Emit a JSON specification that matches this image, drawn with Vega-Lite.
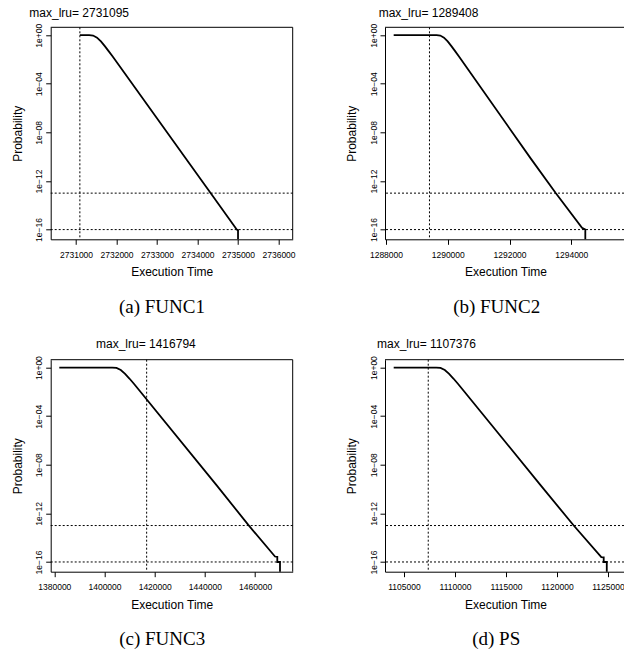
{
  "$schema": "https://vega.github.io/schema/vega-lite/v6.json",
  "autosize": {"type": "none"},
  "padding": {"left": 50.7, "top": 27.3, "right": 573.3, "bottom": 623.7},
  "background": "white",
  "config": {
    "view": {"stroke": null},
    "axis": {"grid": false, "domainColor": "black", "tickColor": "black", "labelColor": "black", "titleColor": "black",
             "labelFont": "Liberation Sans", "titleFont": "Liberation Sans", "titleFontWeight": "normal",
             "labelFontSize": 8.5, "titleFontSize": 12, "tickSize": 5, "labelFlush": false, "labelOverlap": false,
             "labelBound": false, "domainWidth": 1, "tickWidth": 1},
    "title": {"font": "Liberation Sans", "fontSize": 12, "fontWeight": "normal", "color": "black", "anchor": "start", "frame": "group", "baseline": "alphabetic"}
  },
  "datasets": {
    "curveA": [
      {"i": 1, "x": 2731095, "p": 1}, {"i": 2, "x": 2731326, "p": 1}, {"i": 3, "x": 2731422, "p": 0.9333},
      {"i": 4, "x": 2731519, "p": 0.631}, {"i": 5, "x": 2731615, "p": 0.309}, {"i": 6, "x": 2731711, "p": 0.1259},
      {"i": 7, "x": 2731805, "p": 0.04898}, {"i": 8, "x": 2731901, "p": 0.0182}, {"i": 9, "x": 2733773, "p": 3.631e-11},
      {"i": 10, "x": 2734358, "p": 6.918e-14}, {"i": 11, "x": 2734884, "p": 2.455e-16}, {"i": 12, "x": 2734968, "p": 1e-16},
      {"i": 13, "x": 2735000, "p": 8.913e-17}, {"i": 14, "x": 2735000, "p": 1e-18}
    ],
    "curveB": [
      {"i": 1, "x": 1288249, "p": 1}, {"i": 2, "x": 1289639, "p": 1}, {"i": 3, "x": 1289758, "p": 0.9333},
      {"i": 4, "x": 1289878, "p": 0.631}, {"i": 5, "x": 1289998, "p": 0.309}, {"i": 6, "x": 1290118, "p": 0.1259},
      {"i": 7, "x": 1290238, "p": 0.04898}, {"i": 8, "x": 1290358, "p": 0.0182}, {"i": 9, "x": 1292696, "p": 6.607e-11},
      {"i": 10, "x": 1293495, "p": 1.023e-13}, {"i": 11, "x": 1294347, "p": 1.413e-16}, {"i": 12, "x": 1294454, "p": 1e-16},
      {"i": 13, "x": 1294454, "p": 1e-18}
    ],
    "curveC": [
      {"i": 1, "x": 1381992, "p": 1}, {"i": 2, "x": 1403067, "p": 1}, {"i": 3, "x": 1404780, "p": 0.9333},
      {"i": 4, "x": 1406494, "p": 0.631}, {"i": 5, "x": 1408207, "p": 0.309}, {"i": 6, "x": 1409920, "p": 0.1259},
      {"i": 7, "x": 1411633, "p": 0.04898}, {"i": 8, "x": 1413346, "p": 0.0182}, {"i": 9, "x": 1444700, "p": 2.042e-10},
      {"i": 10, "x": 1457289, "p": 1.122e-13}, {"i": 11, "x": 1467927, "p": 2.818e-16}, {"i": 12, "x": 1468843, "p": 2.63e-16},
      {"i": 13, "x": 1468843, "p": 1e-16}, {"i": 14, "x": 1469919, "p": 1e-16}, {"i": 15, "x": 1469919, "p": 1e-18}
    ],
    "curveD": [
      {"i": 1, "x": 1103990, "p": 1}, {"i": 2, "x": 1108157, "p": 1}, {"i": 3, "x": 1108578, "p": 0.9333},
      {"i": 4, "x": 1109000, "p": 0.631}, {"i": 5, "x": 1109422, "p": 0.309}, {"i": 6, "x": 1109843, "p": 0.1259},
      {"i": 7, "x": 1110265, "p": 0.04898}, {"i": 8, "x": 1110686, "p": 0.0182}, {"i": 9, "x": 1118363, "p": 2.239e-10},
      {"i": 10, "x": 1121637, "p": 1e-13}, {"i": 11, "x": 1124343, "p": 2.512e-16}, {"i": 12, "x": 1124578, "p": 2.399e-16},
      {"i": 13, "x": 1124578, "p": 1e-16}, {"i": 14, "x": 1124880, "p": 1e-16}, {"i": 15, "x": 1124880, "p": 1e-18}
    ],
    "hlines": [{"p": 1e-13}, {"p": 1e-16}],
    "topline": [{"p": 4.4668}]
  },
  "columns": 2,
  "spacing": {"row": 120.4, "column": 92.3},
  "bounds": "flush",
  "concat": [
    {
      "width": 242, "height": 212,
      "title": {"text": "max_lru= 2731095", "dx": -21.4, "offset": 3.5},
      "resolve": {"axis": {"x": "independent"}},
      "layer": [
        {
          "data": {"name": "curveA"},
          "mark": {"type": "line", "color": "black", "strokeWidth": 1.8, "clip": true},
          "encoding": {
            "x": {"field": "x", "type": "quantitative", "scale": {"domain": [2730375, 2736350], "nice": false, "zero": false},
                  "axis": {"orient": "bottom", "values": [2731000, 2732000, 2733000, 2734000, 2735000, 2736000], "format": "d",
                           "title": "Execution Time", "labelPadding": 12.8, "labelBaseline": "alphabetic",
                           "titleX": 121, "titleY": 36.4, "titleBaseline": "alphabetic", "titleAlign": "center"}},
            "y": {"field": "p", "type": "quantitative", "scale": {"type": "log", "domain": [1.5849e-17, 4.4668], "nice": false},
                  "axis": {"values": [1, 0.0001, 1e-8, 1e-12, 1e-16],
                           "labelExpr": "datum.value > 0.1 ? '1e+00' : datum.value > 1e-6 ? '1e\u221204' : datum.value > 1e-10 ? '1e\u221208' : datum.value > 1e-14 ? '1e\u221212' : '1e\u221216'",
                           "labelAngle": -90, "labelAlign": "center", "labelBaseline": "alphabetic", "labelPadding": 4,
                           "title": "Probability", "titleX": -29.7, "titleY": 106, "titleBaseline": "alphabetic", "titleAlign": "center", "titleAngle": -90}},
            "order": {"field": "i", "type": "quantitative"}
          }
        },
        {
          "data": {"values": [{"v": 2731095}]},
          "mark": {"type": "rule", "color": "black", "strokeDash": [2, 2], "strokeWidth": 1},
          "encoding": {"x": {"field": "v", "type": "quantitative",
                             "axis": {"orient": "bottom", "title": "(a) FUNC1", "domain": false, "ticks": false, "labels": false,
                                      "titleFont": "Liberation Serif", "titleFontSize": 19, "titleX": 110.7, "titleY": 73,
                                      "titleBaseline": "alphabetic", "titleAlign": "center"}}}
        },
        {
          "data": {"name": "hlines"},
          "mark": {"type": "rule", "color": "black", "strokeDash": [2, 2], "strokeWidth": 1},
          "encoding": {"y": {"field": "p", "type": "quantitative"}}
        },
        {
          "data": {"name": "topline"},
          "mark": {"type": "rule", "color": "black", "strokeWidth": 1},
          "encoding": {"y": {"field": "p", "type": "quantitative"}}
        },
        {
          "data": {"values": [{"v": 2736350}]},
          "mark": {"type": "rule", "color": "black", "strokeWidth": 1},
          "encoding": {"x": {"field": "v", "type": "quantitative", "axis": null}}
        }
      ]
    },
    {
      "width": 239, "height": 212,
      "title": {"text": "max_lru= 1289408", "dx": -6.3, "offset": 3.5},
      "resolve": {"axis": {"x": "independent"}},
      "layer": [
        {
          "data": {"name": "curveB"},
          "mark": {"type": "line", "color": "black", "strokeWidth": 1.8, "clip": true},
          "encoding": {
            "x": {"field": "x", "type": "quantitative", "scale": {"domain": [1287968, 1295707], "nice": false, "zero": false},
                  "axis": {"orient": "bottom", "values": [1288000, 1290000, 1292000, 1294000], "format": "d",
                           "title": "Execution Time", "labelPadding": 12.8, "labelBaseline": "alphabetic",
                           "titleX": 120.5, "titleY": 36.4, "titleBaseline": "alphabetic", "titleAlign": "center"}},
            "y": {"field": "p", "type": "quantitative", "scale": {"type": "log", "domain": [1.5849e-17, 4.4668], "nice": false},
                  "axis": {"values": [1, 0.0001, 1e-8, 1e-12, 1e-16],
                           "labelExpr": "datum.value > 0.1 ? '1e+00' : datum.value > 1e-6 ? '1e\u221204' : datum.value > 1e-10 ? '1e\u221208' : datum.value > 1e-14 ? '1e\u221212' : '1e\u221216'",
                           "labelAngle": -90, "labelAlign": "center", "labelBaseline": "alphabetic", "labelPadding": 4,
                           "title": "Probability", "titleX": -30, "titleY": 106, "titleBaseline": "alphabetic", "titleAlign": "center", "titleAngle": -90}},
            "order": {"field": "i", "type": "quantitative"}
          }
        },
        {
          "data": {"values": [{"v": 1289408}]},
          "mark": {"type": "rule", "color": "black", "strokeDash": [2, 2], "strokeWidth": 1},
          "encoding": {"x": {"field": "v", "type": "quantitative",
                             "axis": {"orient": "bottom", "title": "(b) FUNC2", "domain": false, "ticks": false, "labels": false,
                                      "titleFont": "Liberation Serif", "titleFontSize": 19, "titleX": 111.2, "titleY": 73,
                                      "titleBaseline": "alphabetic", "titleAlign": "center"}}}
        },
        {
          "data": {"name": "hlines"},
          "mark": {"type": "rule", "color": "black", "strokeDash": [2, 2], "strokeWidth": 1},
          "encoding": {"y": {"field": "p", "type": "quantitative"}}
        },
        {
          "data": {"name": "topline"},
          "mark": {"type": "rule", "color": "black", "strokeWidth": 1},
          "encoding": {"y": {"field": "p", "type": "quantitative"}}
        }
      ]
    },
    {
      "width": 242, "height": 212,
      "title": {"text": "max_lru= 1416794", "dx": 45.3, "offset": 4.6},
      "resolve": {"axis": {"x": "independent"}},
      "layer": [
        {
          "data": {"name": "curveC"},
          "mark": {"type": "line", "color": "black", "strokeWidth": 1.8, "clip": true},
          "encoding": {
            "x": {"field": "x", "type": "quantitative", "scale": {"domain": [1378566, 1474979], "nice": false, "zero": false},
                  "axis": {"orient": "bottom", "values": [1380000, 1400000, 1420000, 1440000, 1460000], "format": "d",
                           "title": "Execution Time", "labelPadding": 12.8, "labelBaseline": "alphabetic",
                           "titleX": 121, "titleY": 36.4, "titleBaseline": "alphabetic", "titleAlign": "center"}},
            "y": {"field": "p", "type": "quantitative", "scale": {"type": "log", "domain": [1.5849e-17, 4.4668], "nice": false},
                  "axis": {"values": [1, 0.0001, 1e-8, 1e-12, 1e-16],
                           "labelExpr": "datum.value > 0.1 ? '1e+00' : datum.value > 1e-6 ? '1e\u221204' : datum.value > 1e-10 ? '1e\u221208' : datum.value > 1e-14 ? '1e\u221212' : '1e\u221216'",
                           "labelAngle": -90, "labelAlign": "center", "labelBaseline": "alphabetic", "labelPadding": 4,
                           "title": "Probability", "titleX": -29.7, "titleY": 106, "titleBaseline": "alphabetic", "titleAlign": "center", "titleAngle": -90}},
            "order": {"field": "i", "type": "quantitative"}
          }
        },
        {
          "data": {"values": [{"v": 1416794}]},
          "mark": {"type": "rule", "color": "black", "strokeDash": [2, 2], "strokeWidth": 1},
          "encoding": {"x": {"field": "v", "type": "quantitative",
                             "axis": {"orient": "bottom", "title": "(c) FUNC3", "domain": false, "ticks": false, "labels": false,
                                      "titleFont": "Liberation Serif", "titleFontSize": 19, "titleX": 111, "titleY": 73,
                                      "titleBaseline": "alphabetic", "titleAlign": "center"}}}
        },
        {
          "data": {"name": "hlines"},
          "mark": {"type": "rule", "color": "black", "strokeDash": [2, 2], "strokeWidth": 1},
          "encoding": {"y": {"field": "p", "type": "quantitative"}}
        },
        {
          "data": {"name": "topline"},
          "mark": {"type": "rule", "color": "black", "strokeWidth": 1},
          "encoding": {"y": {"field": "p", "type": "quantitative"}}
        },
        {
          "data": {"values": [{"v": 1474979}]},
          "mark": {"type": "rule", "color": "black", "strokeWidth": 1},
          "encoding": {"x": {"field": "v", "type": "quantitative", "axis": null}}
        }
      ]
    },
    {
      "width": 239, "height": 212,
      "title": {"text": "max_lru= 1107376", "dx": -8, "offset": 4.6},
      "resolve": {"axis": {"x": "independent"}},
      "layer": [
        {
          "data": {"name": "curveD"},
          "mark": {"type": "line", "color": "black", "strokeWidth": 1.8, "clip": true},
          "encoding": {
            "x": {"field": "x", "type": "quantitative", "scale": {"domain": [1103137, 1126568], "nice": false, "zero": false},
                  "axis": {"orient": "bottom", "values": [1105000, 1110000, 1115000, 1120000, 1125000], "format": "d",
                           "title": "Execution Time", "labelPadding": 12.8, "labelBaseline": "alphabetic",
                           "titleX": 120.5, "titleY": 36.4, "titleBaseline": "alphabetic", "titleAlign": "center"}},
            "y": {"field": "p", "type": "quantitative", "scale": {"type": "log", "domain": [1.5849e-17, 4.4668], "nice": false},
                  "axis": {"values": [1, 0.0001, 1e-8, 1e-12, 1e-16],
                           "labelExpr": "datum.value > 0.1 ? '1e+00' : datum.value > 1e-6 ? '1e\u221204' : datum.value > 1e-10 ? '1e\u221208' : datum.value > 1e-14 ? '1e\u221212' : '1e\u221216'",
                           "labelAngle": -90, "labelAlign": "center", "labelBaseline": "alphabetic", "labelPadding": 4,
                           "title": "Probability", "titleX": -30, "titleY": 106, "titleBaseline": "alphabetic", "titleAlign": "center", "titleAngle": -90}},
            "order": {"field": "i", "type": "quantitative"}
          }
        },
        {
          "data": {"values": [{"v": 1107376}]},
          "mark": {"type": "rule", "color": "black", "strokeDash": [2, 2], "strokeWidth": 1},
          "encoding": {"x": {"field": "v", "type": "quantitative",
                             "axis": {"orient": "bottom", "title": "(d) PS", "domain": false, "ticks": false, "labels": false,
                                      "titleFont": "Liberation Serif", "titleFontSize": 19, "titleX": 110.7, "titleY": 73,
                                      "titleBaseline": "alphabetic", "titleAlign": "center"}}}
        },
        {
          "data": {"name": "hlines"},
          "mark": {"type": "rule", "color": "black", "strokeDash": [2, 2], "strokeWidth": 1},
          "encoding": {"y": {"field": "p", "type": "quantitative"}}
        },
        {
          "data": {"name": "topline"},
          "mark": {"type": "rule", "color": "black", "strokeWidth": 1},
          "encoding": {"y": {"field": "p", "type": "quantitative"}}
        }
      ]
    }
  ]
}
